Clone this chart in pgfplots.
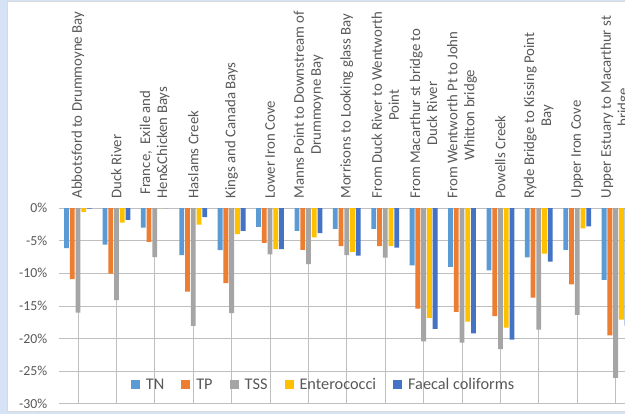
\documentclass[border=0pt]{standalone}
\usepackage{pgfplots}
\pgfplotsset{compat=1.18}
\usepackage{pgfplotstable}
\usepackage{fontspec}
\setmainfont{Carlito}
\definecolor{cTN}{HTML}{5B9BD5}
\definecolor{cTP}{HTML}{ED7D31}
\definecolor{cTSS}{HTML}{A5A5A5}
\definecolor{cEnt}{HTML}{FFC000}
\definecolor{cFC}{HTML}{4472C4}
\definecolor{txt}{HTML}{595959}
\definecolor{grid}{HTML}{D9D9D9}
\definecolor{bgblue}{RGB}{214,227,247}
\pgfplotstableread{
x TN TP TSS Ent FC
0 -6.15 -10.9 -16.0 -0.6 -0.1
1 -5.6 -10.05 -14.1 -2.25 -1.8
2 -3.0 -5.2 -7.5 0.1 0.1
3 -7.2 -12.8 -18.05 -2.55 -1.4
4 -6.45 -11.5 -16.1 -4.0 -3.5
5 -2.9 -5.35 -7.1 -6.3 -6.3
6 -3.5 -6.4 -8.6 -4.5 -3.85
7 -3.2 -5.85 -7.2 -6.7 -7.3
8 -3.2 -5.85 -7.6 -5.85 -6.05
9 -8.8 -15.4 -20.4 -16.8 -18.5
10 -9.0 -15.9 -20.6 -17.4 -19.2
11 -9.55 -16.55 -21.6 -18.3 -20.15
12 -7.55 -13.7 -18.6 -7.0 -8.2
13 -6.4 -11.7 -16.35 -3.1 -2.8
14 -11.0 -19.5 -26.0 -17.1 -18.0
}\data
\begin{document}
\begin{tikzpicture}
\useasboundingbox (0pt,0pt) rectangle (625pt,-414pt);
\clip (0pt,0pt) rectangle (625pt,-414pt);
\begin{pgfinterruptboundingbox}
\fill[bgblue] (0pt,0pt) rectangle (625pt,-414pt);
\filldraw[fill=white, draw=gray!30, line width=0.75pt] (7.5pt,-1.5pt) rectangle (700pt,-411.5pt);
\begin{axis}[
  at={(58.8pt,-404pt)}, anchor=south west,
  scale only axis, width=576pt, height=196pt,
  xmin=-0.5, xmax=14.5, ymin=-30, ymax=0,
  ybar=0.95pt, bar width=4.8pt,
  axis line style={draw=none},
  major tick length=0pt,
  ymajorgrids, grid style={grid, line width=1pt},
  ytick={-30,-25,-20,-15,-10,-5,0},
  yticklabels={-30\%,-25\%,-20\%,-15\%,-10\%,-5\%,0\%},
  yticklabel style={font=\fontsize{13.8}{16}\selectfont, text=txt},
  yticklabel shift=8pt,
  xtick={0,...,14},
  xticklabel pos=upper,
  xticklabels={{Abbotsford to Drummoyne Bay},{Duck River},{France,\ \ Exile and\\Hen\&Chicken Bays},{Haslams Creek},{Kings and Canada Bays},{Lower Iron Cove},{Manns Point to Downstream of\\Drummoyne Bay},{Morrisons to Looking glass Bay},{From Duck River to Wentworth\\Point},{From Macarthur st bridge to\\Duck River},{From Wentworth Pt to John\\Whitton bridge},{Powells Creek},{Ryde Bridge to Kissing Point\\Bay},{Upper Iron Cove},{Upper Estuary to Macarthur st\\bridge}},
  xticklabel style={rotate=90, anchor=west, align=center, font=\fontsize{14.8}{17}\selectfont, text=txt},
  xticklabel shift=6pt,
  legend columns=-1,
  legend style={at={(rel axis cs:0.1195,0.097)}, anchor=west, draw=none, fill=none,
    font=\fontsize{16.3}{18}\selectfont, text=txt,
    /tikz/every even column/.append style={column sep=15pt}},
  legend image code/.code={\fill[#1] (0pt,-4.5pt) rectangle (9pt,4.5pt); \path (13pt,0pt);},
]
\addplot[fill=cTN, draw=none] table[x=x,y=TN] {\data};
\addplot[fill=cTP, draw=none] table[x=x,y=TP] {\data};
\addplot[fill=cTSS, draw=none] table[x=x,y=TSS] {\data};
\addplot[fill=cEnt, draw=none] table[x=x,y=Ent] {\data};
\addplot[fill=cFC, draw=none] table[x=x,y=FC] {\data};
\legend{TN,TP,TSS,Enterococci,Faecal coliforms}
\end{axis}
\end{pgfinterruptboundingbox}
\end{tikzpicture}
\end{document}
